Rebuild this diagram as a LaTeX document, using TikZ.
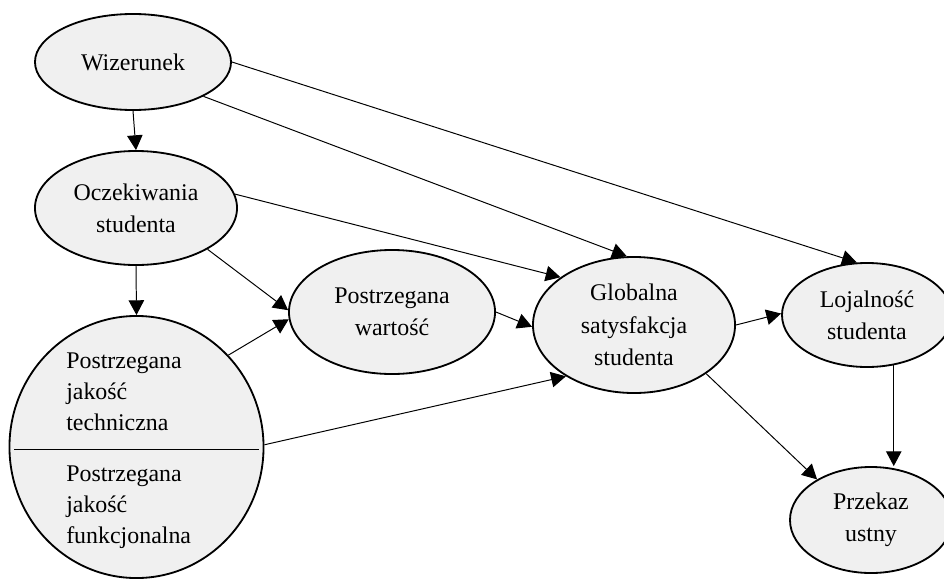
\documentclass[tikz,border=0pt]{standalone}
\usepackage{fontspec}
\setmainfont{Liberation Serif}
\usetikzlibrary{shapes.geometric, arrows.meta}
\definecolor{bubblefill}{HTML}{F0F0F0}

\begin{document}
\begin{tikzpicture}[
        x=0.025cm, y=-0.025cm,
        bubble/.style={draw, ellipse, line width=1.3pt, fill=bubblefill, inner sep=0pt, align=center, font=\fontsize{17}{23}\selectfont},
        label text/.style={anchor=west, align=left, inner sep=0pt, font=\fontsize{17}{22}\selectfont},
        link/.style={-{Triangle[length=10.5pt, width=11pt]}, line width=0.7pt}
    ]
        \useasboundingbox (0,0) rectangle (944,579);

        \node[bubble, minimum width=4.9cm, minimum height=2.4cm] (wiz) at (133,62) {Wizerunek};
        \node[bubble, minimum width=5.05cm, minimum height=2.85cm] (ocz) at (136,208) {Oczekiwania\\studenta};
        \node[bubble, minimum width=6.35cm, minimum height=6.55cm] (jakosc) at (136.5,447) {};
        \node[label text] (tech) at (66,392) {Postrzegana\\jakość\\techniczna};
        \node[label text] (func) at (66,507) {Postrzegana\\jakość\\funkcjonalna};
        \node[bubble, minimum width=5.15cm, minimum height=3.1cm] (pw) at (392,312) {Postrzegana\\wartość};
        \node[bubble, minimum width=5.05cm, minimum height=3.4cm] (glob) at (634,325) {Globalna\\satysfakcja\\studenta};
        \node[bubble, minimum width=4.25cm, minimum height=2.6cm] (loj) at (867,315) {Lojalność\\studenta};
        \node[bubble, minimum width=4.05cm, minimum height=2.65cm] (prz) at (871,520) {Przekaz\\ustny};

        % podzial jakosci
        \draw[line width=0.7pt, shorten <=4pt, shorten >=4pt] (jakosc.181) -- (jakosc.-1);

        \draw[link] (wiz.south) -- (ocz.north);
        \draw[link] (wiz.east) -- (loj.101);
        \draw[link] (wiz.-26) -- (glob.96);
        \draw[link] (ocz.8) -- (glob.147);
        \draw[link] (ocz.-30) -- (pw.179);
        \draw[link] (ocz.south) -- (jakosc.north);
        \draw[link] (jakosc.45) -- (pw.184);
        \draw[link] (jakosc.1) -- (glob.217);
        \draw[link] (pw.east) -- (glob.181);
        \draw[link] (glob.east) -- (loj.179);
        \draw[link] (glob.-34) -- (prz.143);
        \draw[link] (loj.-62) -- (loj.-62 |- prz.north);
    \end{tikzpicture}
\end{document}
